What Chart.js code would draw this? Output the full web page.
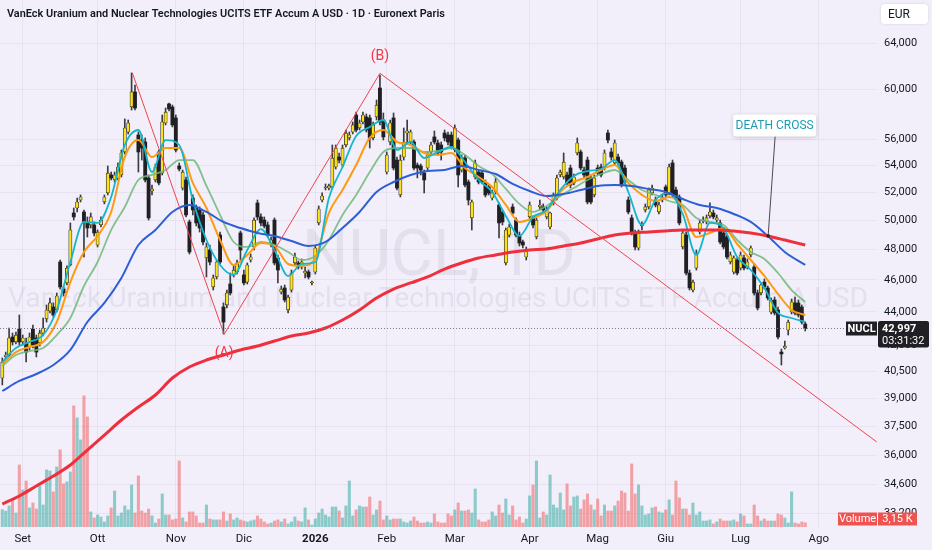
<!DOCTYPE html>
<html>
<head>
<meta charset="utf-8">
<script src="https://cdn.jsdelivr.net/npm/chart.js@4.4.1/dist/chart.umd.min.js"></script>
<style>
  html, body { margin: 0; padding: 0; background: #f2effa; }
  #wrap { width: 932px; height: 550px; }
</style>
</head>
<body>
<div id="wrap"><canvas id="chart" width="932" height="550"></canvas></div>
<script>
// daily bars, 22 Aug 2025 -> 28 Jul 2026 (index 0..236)
const opens = [40120,41315,41430,42485,42190,42960,42190,42130,41895,42960,
  42425,42130,42720,43565,44050,44300,44115,47170,45425,45810,
  46975,50510,50860,51430,50580,49880,49670,49670,48300,49670,
  51290,51940,53260,52890,53035,53260,54995,56550,58560,59800,
  56315,55920,55770,53035,52080,52890,54995,53405,57265,58805,
  58560,57670,53930,52300,52890,49880,51575,50860,50720,50370,
  47435,47965,45555,46195,48980,44300,44425,45745,46325,46515,
  49120,46325,45870,47300,48170,51220,50230,50015,49670,48300,
  50015,47435,45235,45490,44115,45360,47105,47105,46840,46450,
  46515,45810,46515,49810,51430,52300,52300,52375,53855,54610,
  54005,55535,56080,56550,57910,56870,57345,57750,57670,56080,
  57750,60130,57505,53480,55770,57670,54380,51795,54610,56470,
  55770,55770,54005,53930,53405,53780,54995,56160,55690,55535,
  56470,56315,56315,55150,55920,53630,54535,52740,50160,53110,
  53480,53405,52670,52375,51575,52010,51075,50580,47105,48980,
  50935,50015,48980,48505,47500,50230,50160,48845,50935,50935,
  50230,49530,51220,51575,53260,53110,53260,53780,52670,54920,
  54995,53630,54380,53035,51795,53780,53855,53780,56470,54995,
  54160,54610,54230,53780,51430,50160,49120,48100,49600,50720,
  50935,51940,51430,50580,51430,52375,51940,54160,52155,51650,
  48170,48980,46450,45360,46775,49185,49945,49880,50300,50510,
  50015,49810,49120,48845,47170,46515,47300,46775,47435,46840,
  47635,46840,45175,45175,45870,45490,43990,44735,44115,41600,
  41835,42900,43990,44550,44550,44300,43260];
const highs = [41260,41600,43020,42720,42780,43810,42600,42425,42720,43200,
  42600,42900,43625,44425,44860,44550,45175,47300,45555,46910,
  49810,50860,51575,51795,50720,50230,50510,49880,49325,50230,
  51795,53930,53480,53480,54160,55150,57590,57505,61405,60385,
  56550,56315,56080,53260,52520,54080,55150,57910,58475,58885,
  58720,57910,54160,53630,53110,50015,51795,51075,50935,50580,
  48435,48300,46325,47300,49185,44550,45360,46450,46910,47300,
  49255,46645,47105,47700,50160,51430,50440,50230,49880,48845,
  50160,47635,45615,45680,45045,46645,47765,47235,47370,46840,
  46645,45935,48235,51005,51940,52595,52595,55535,55535,54920,
  55535,56710,56550,57345,58150,57505,58150,57990,57910,57345,
  59130,61235,58070,54995,57505,58070,54610,54765,56870,57505,
  56710,55920,54160,54080,53630,54995,55770,56630,55920,55770,
  56710,56550,56550,57110,56080,54765,54765,52890,51430,54380,
  53630,53630,52890,52520,52155,53035,51220,50720,49460,49740,
  51150,50160,49185,48640,48170,51290,50300,50160,51430,51150,
  50935,50580,51940,53260,53630,54920,53480,54005,53330,56080,
  55150,53855,54610,53260,53260,54005,54080,55150,56710,55300,
  55920,54840,54380,54005,51650,50370,49325,49325,49880,51150,
  52300,52520,51650,51290,51865,52520,54080,54380,52375,51795,
  49325,49185,46645,46000,47965,50015,50230,50370,51220,50720,
  50370,50015,49325,48980,47835,47570,47435,47835,47635,47370,
  48235,47040,45360,45810,46065,45615,44860,44920,44300,41775,
  42245,43500,44795,44920,44735,44425,43380];
const lows = [39735,41200,41315,42010,42070,42010,42010,41025,41720,41835,
  41315,41950,42540,43380,43930,43685,43990,45425,44985,45680,
  46910,50015,50580,51290,47500,48845,49460,48915,48170,49530,
  51150,51795,52890,52740,52890,53110,54840,56395,58310,58310,
  53480,54380,52740,50015,51795,52740,52520,53260,57110,58230,
  56950,54995,53555,52155,50230,47700,50370,49600,49185,48300,
  46195,46975,45360,46065,47040,42660,44240,45045,46195,46390,
  47300,45680,45745,47170,47965,50015,49600,49460,48845,48170,
  46975,45810,45110,44610,43930,45235,46975,46710,46710,46130,
  46065,45680,46390,49670,51290,52155,52155,52230,53705,54160,
  53855,55380,55920,56395,56550,56710,57185,56550,55300,55920,
  57505,57110,55920,53330,55535,53630,52155,51650,54380,55690,
  55610,53630,53035,53260,51940,53630,54840,55610,54765,54380,
  55845,55535,55225,54995,52375,53480,52375,51075,49325,52960,
  52595,52595,51650,51795,51430,51865,48775,49670,46975,48845,
  50370,48845,48235,48100,47300,50090,49460,48710,50720,50580,
  50090,49390,51075,51430,53110,52960,52520,52300,52520,54765,
  53630,53035,51150,51150,51650,53260,53110,53630,55690,54380,
  54005,54005,52375,52595,50440,48980,47965,47965,49325,50580,
  50790,51795,50935,50440,51290,51650,51795,51650,51430,49670,
  48035,46325,45360,45235,46645,49050,49810,49740,50160,50090,
  49880,48370,48035,47370,47040,46390,46325,46645,46645,46710,
  47500,45045,44115,45045,45425,44735,43870,43810,42365,40855,
  41775,42600,43870,43810,43685,43260,42840];
const closes = [41025,41430,42425,42190,42600,42190,42425,41600,42485,42010,
  41600,42720,43020,44115,44550,43810,44985,45555,45175,46775,
  49325,50230,51290,51650,49880,49460,50230,49120,49185,50015,
  51650,53405,53035,53260,53855,54920,56870,57265,59800,58475,
  54995,55300,52890,50160,52230,53855,52670,57345,58150,58395,
  57110,55150,53705,53480,50370,47835,50720,49810,49460,48505,
  48170,47170,46130,47170,47170,43380,45175,45175,46645,47105,
  47965,45810,46975,47500,50015,50230,49810,49600,48980,48640,
  47105,46645,45425,44735,44920,46450,47500,46840,47170,46580,
  46195,45870,48100,50790,51720,52375,52450,54535,55300,54380,
  55300,56470,56315,57110,56710,57265,57910,56710,56080,57110,
  58720,57345,56160,54765,57265,53780,52300,54380,55770,56630,
  56550,53780,53780,53630,52890,54765,55535,55770,54920,54995,
  56080,55770,55380,56870,53260,54610,52520,51430,51290,54160,
  52740,52740,51795,51940,51940,52740,49810,49880,49325,49530,
  50510,48980,48435,48300,47965,51075,49670,50015,51075,50720,
  50720,50510,51795,53035,53480,54230,52670,52520,53110,55690,
  53780,53260,51290,51290,53035,53405,53260,54920,55920,54610,
  55690,54160,52520,52740,50580,49185,48170,49120,49670,50935,
  52155,52300,51075,51075,51650,51795,53855,51795,51575,49810,
  49120,46450,45490,45870,47765,49810,50015,50160,50580,50230,
  50160,48505,48170,47500,47635,47435,46450,47635,46775,47170,
  48100,45175,44240,45680,45555,44860,44735,43930,42485,41490,
  41950,43380,44610,43930,43810,43380,42997];
// volume in thousands
const volumes = [13.0,12.0,15.8,21.0,10.5,46.5,27.8,34.5,14.3,18.0,
  13.5,30.8,16.5,42.8,42.0,26.3,45.0,57.8,32.3,33.8,
  41.3,90.8,81.8,65.3,98.3,82.5,11.3,6.8,9.0,7.5,
  3.8,8.3,14.3,27.0,8.3,10.5,15.8,12.8,31.5,10.5,
  38.3,12.0,10.5,13.5,8.3,3.0,6.0,24.8,9.0,9.0,
  5.3,6.0,49.5,6.8,3.8,11.3,11.3,8.3,3.0,3.0,
  16.5,6.0,5.3,5.3,5.3,11.3,4.5,9.8,5.3,6.8,
  5.3,4.5,3.8,4.5,5.3,8.3,6.0,3.8,2.3,3.0,
  4.5,5.3,3.8,6.0,2.3,3.8,7.5,4.5,3.8,14.3,
  5.3,1.5,6.0,10.5,13.5,9.0,7.5,15.0,15.0,12.0,
  6.8,15.8,34.5,8.3,12.8,15.8,15.0,15.0,22.5,9.0,
  12.8,19.5,5.3,8.3,5.3,6.0,6.0,6.0,3.8,3.0,
  4.5,7.5,4.5,3.0,3.0,3.8,3.0,9.8,3.8,3.0,
  3.0,9.8,8.3,12.8,18.0,12.0,12.0,12.8,10.5,28.5,
  5.3,3.8,3.8,5.3,11.3,8.3,16.5,10.5,21.0,9.0,
  15.8,5.3,7.5,3.0,6.0,23.3,31.5,49.5,6.8,11.3,
  9.0,39.0,16.5,14.3,25.5,12.8,32.3,15.8,22.5,23.3,
  13.5,20.3,24.8,16.5,12.8,21.0,8.3,16.5,12.0,12.0,
  15.8,19.5,27.0,25.5,12.0,47.3,24.8,31.5,15.8,9.0,
  9.8,14.3,15.0,11.3,10.5,12.8,20.3,9.0,34.5,21.8,
  13.5,13.5,9.0,18.0,9.0,11.3,4.5,4.5,5.3,2.3,
  3.8,6.0,4.5,4.5,4.5,5.3,3.8,9.8,8.3,2.3,
  2.3,16.5,8.3,4.5,6.0,4.5,4.5,4.5,9.8,9.0,
  6.8,3.0,26.3,3.0,2.3,3.8,3.15];

const fastIdx = [0,4,8,12,16,20,24,28,32,36,40,44,48,52,56,60,64,68,72,76,
  80,84,88,92,96,100,104,108,112,116,120,124,128,132,136,140,144,148,152,156,
  160,164,168,172,176,180,184,188,192,196,200,204,208,212,216,220,224,228,232,236];
const maTeal = [41025,41835,42190,42600,44115,47170,49880,49810,51650,55535,
  56710,53480,55920,55535,51430,48640,46975,46325,47965,49390,
  47965,46260,47040,47170,51575,53855,56235,56950,57505,55150,
  55770,54535,54995,55380,54230,52890,52010,50300,48915,50230,
  50720,52155,53185,53555,53705,54380,52010,49670,51430,51940,
  50440,47635,49810,49460,47500,46645,45490,43930,43625,43380];
const maOrange = [40915,41600,41895,42190,43380,45870,47835,48915,50580,54610,
  55920,54610,55300,55300,52670,50860,48640,46975,47635,48435,
  48235,47040,46910,47435,50510,52155,54005,56080,56710,55770,
  55535,54920,54765,54920,53780,53110,52375,51075,49880,50160,
  50650,52010,52740,53110,53630,54005,52670,51795,51360,51650,
  50935,48845,49120,49460,48370,47300,46260,45110,44115,43810];
const maGreen = [40800,41430,41660,41835,42600,43625,45615,47170,49325,50935,
  52890,53260,53630,54380,54380,52450,50370,48505,48170,48505,
  48300,47835,47300,47570,48640,50370,51795,53480,54995,55300,
  55300,54995,55070,55300,54765,53930,53330,52230,51150,50580,
  51005,51720,52300,52890,53330,53630,52890,52155,51795,51360,
  51075,50160,49880,49670,48640,47835,47370,46450,45360,44610];
const slowIdx = [0,5,10,15,20,25,30,35,40,45,50,55,60,65,70,75,80,85,90,95,
  100,105,110,115,120,125,130,135,140,145,150,155,160,165,170,175,180,185,190,195,
  200,205,210,215,220,225,230,236];
const ma50 = [39400,39955,40345,40855,41720,43380,44550,46130,48300,49325,
  50580,51075,50580,49880,49460,49120,48915,48570,48235,48505,
  49460,50580,52010,52740,53260,53555,53630,53930,53630,53330,
  52595,52080,51720,51865,52155,52450,52520,52450,52230,52010,
  51505,51075,50860,50440,49880,48915,47835,46975];
const ma200 = [33650,34030,34510,34990,35535,36285,37050,37836,38530,39180,
  40120,40740,41140,41430,41720,41950,42245,42540,42720,43020,
  43500,44115,44860,45425,45810,46195,46710,47105,47435,47635,
  47835,47965,48035,48235,48435,48710,48980,49120,49185,49255,
  49325,49325,49325,49255,49120,48915,48640,48300];

// hand-drawn wave lines
const waveIdx = [38.2, 65.2, 111.0, 257.0];
const wavePrice = [61430, 42640, 61380, 36700];
const waveLabels = ['', '(A)', '(B)', ''];
const crossIdx = 225.1, crossPrice = 48915;

const monthIdx = [6,28,51,71,92,113,133,155,175,195,217,240];
const monthLabels = ['Set','Ott','Nov','Dic','2026','Feb','Mar','Apr','Mag','Giu','Lug','Ago'];
const priceTicks = [33200,34600,36000,37500,39000,40500,42000,44000,46000,48000,50000,52000,54000,56000,60000,64000];

const titleText = 'VanEck Uranium and Nuclear Technologies UCITS ETF Accum A USD · 1D · Euronext Paris';
const markBig = 'NUCL, 1D';
const markSmall = 'VanEck Uranium and Nuclear Technologies UCITS ETF Accum A USD';
const countdown = '03:31:32';

const FONT = 'Roboto, "Noto Sans", sans-serif';
const BG = '#f2effa';
const GRID = '#e6e2f1';
const TXT = '#131722';

const isUp = closes.map((c, i) => c >= opens[i]);
const idx = closes.map((c, i) => i);

function fitFont(c, text, width, weight) {
  c.font = weight + ' 100px ' + FONT;
  const size = 100 * width / c.measureText(text).width;
  c.font = weight + ' ' + size.toFixed(2) + 'px ' + FONT;
}
function rrect(c, x, y, w, h, r) {
  c.beginPath();
  c.moveTo(x + r, y);
  c.arcTo(x + w, y, x + w, y + h, r);
  c.arcTo(x + w, y + h, x, y + h, r);
  c.arcTo(x, y + h, x, y, r);
  c.arcTo(x, y, x + w, y, r);
  c.closePath();
}

const decor = {
  id: 'decor',
  beforeDraw(chart) {
    const c = chart.ctx;
    c.save();
    c.fillStyle = BG;
    c.fillRect(0, 0, chart.width, chart.height);
    c.restore();
  },
  beforeDatasetsDraw(chart) {
    const c = chart.ctx;
    c.save();
    c.fillStyle = 'rgba(70,60,110,0.085)';
    c.textAlign = 'center';
    c.textBaseline = 'alphabetic';
    fitFont(c, markBig, 274, 'normal');
    c.fillText(markBig, 439, 275);
    fitFont(c, markSmall, 860, 'normal');
    c.fillText(markSmall, 438, 307);
    c.restore();
  },
  afterDatasetsDraw(chart) {
    const c = chart.ctx, a = chart.chartArea, x = chart.scales.x, y = chart.scales.y;
    const last = closes[closes.length - 1];
    const py = Math.round(y.getPixelForValue(last)) + 0.5;

    c.save();
    // price scale labels (drawn here so the axis adds no padding to the plot)
    c.fillStyle = TXT;
    c.font = '11px ' + FONT;
    c.textAlign = 'left';
    c.textBaseline = 'middle';
    priceTicks.forEach(v => c.fillText(v.toLocaleString('en-US'), a.right + 7, y.getPixelForValue(v)));

    // last price dotted line
    c.strokeStyle = '#7e7b8c';
    c.lineWidth = 1;
    c.setLineDash([1, 2]);
    c.beginPath(); c.moveTo(a.left, py); c.lineTo(a.right, py); c.stroke();
    c.setLineDash([]);

    // wave labels
    c.fillStyle = '#f23645';
    c.font = '14px ' + FONT;
    c.textAlign = 'center';
    c.fillText(waveLabels[1], x.getPixelForValue(waveIdx[1]), y.getPixelForValue(wavePrice[1]) + 19);
    c.fillText(waveLabels[2], x.getPixelForValue(waveIdx[2]), y.getPixelForValue(wavePrice[2]) - 17);

    // death cross callout
    const ax = x.getPixelForValue(crossIdx), ay = y.getPixelForValue(crossPrice);
    const bw = 83, bh = 22, bx = ax + 6.5 - bw / 2, by = ay - 110.5 - bh / 2;
    c.strokeStyle = '#4a4a55';
    c.lineWidth = 1;
    c.beginPath(); c.moveTo(ax + 7, by + bh); c.lineTo(ax, ay); c.stroke();
    c.fillStyle = '#222';
    c.fillRect(ax - 1.5, ay - 1.5, 3, 3);
    c.shadowColor = 'rgba(0,0,0,0.18)'; c.shadowBlur = 4; c.shadowOffsetY = 1;
    c.fillStyle = '#ffffff';
    rrect(c, bx, by, bw, bh, 3); c.fill();
    c.shadowColor = 'transparent'; c.shadowBlur = 0; c.shadowOffsetY = 0;
    c.fillStyle = '#1e9bb3';
    c.font = '12px ' + FONT;
    c.fillText('DEATH CROSS', bx + bw / 2, by + bh / 2 + 0.5);

    // symbol + last price boxes
    c.fillStyle = '#1f1f24';
    c.fillRect(a.right - 31, py - 7, 31, 14);
    rrect(c, a.right + 1, py - 7.5, 51, 26.5, 2); c.fill();
    c.fillStyle = '#ffffff';
    c.font = 'bold 11px ' + FONT;
    c.fillText('NUCL', a.right - 15.5, py + 0.5);
    c.textAlign = 'left';
    c.fillText(last.toLocaleString('en-US'), a.right + 5, py + 0.5);
    c.font = '11px ' + FONT;
    c.fillText(countdown, a.right + 5, py + 12.5);

    // volume boxes
    const vy = 519;
    c.fillStyle = '#ef5350';
    c.fillRect(a.right - 39, vy - 6.5, 39, 13);
    c.fillRect(a.right + 1, vy - 6.5, 39, 13);
    c.fillStyle = '#ffffff';
    c.textAlign = 'center';
    c.fillText('Volume', a.right - 19.5, vy + 0.5);
    const lv = volumes[volumes.length - 1].toFixed(2).replace('.', ',') + ' K';
    c.fillText(lv, a.right + 20.5, vy + 0.5);

    // currency box
    c.shadowColor = 'rgba(0,0,0,0.12)'; c.shadowBlur = 3;
    c.fillStyle = '#ffffff';
    rrect(c, 881, 4, 47, 20, 4); c.fill();
    c.shadowColor = 'transparent'; c.shadowBlur = 0;
    c.fillStyle = TXT;
    c.textAlign = 'left';
    c.font = '12px ' + FONT;
    c.fillText('EUR', 888, 14.5);

    // title
    c.fillStyle = TXT;
    fitFont(c, titleText, 438, '600');
    c.textBaseline = 'middle';
    c.fillText(titleText, 7, 14.5);
    c.restore();
  }
};

const lineDs = (label, xs, vals, color, width, order) => ({
  type: 'line', label, yAxisID: 'y',
  data: xs.map((v, k) => ({ x: v, y: vals[k] })),
  borderColor: color, borderWidth: width, pointRadius: 0,
  tension: 0.4, cubicInterpolationMode: 'monotone', order
});

new Chart(document.getElementById('chart'), {
  type: 'bar',
  data: {
    datasets: [
      {
        label: 'Volume', yAxisID: 'yv', grouped: false, order: 9,
        data: idx.map(i => ({ x: i, y: volumes[i] })),
        backgroundColor: idx.map(i => isUp[i] ? 'rgba(38,166,154,0.5)' : 'rgba(239,83,80,0.5)'),
        barThickness: 2.4
      },
      {
        label: 'wick', yAxisID: 'y', grouped: false, order: 7,
        data: idx.map(i => ({ x: i, y: [lows[i], highs[i]] })),
        backgroundColor: '#3b3b40', barThickness: 1
      },
      {
        label: 'body', yAxisID: 'y', grouped: false, order: 6,
        data: idx.map(i => ({ x: i, y: [opens[i], closes[i]] })),
        backgroundColor: idx.map(i => isUp[i] ? '#fbe21d' : '#1f1f24'),
        borderColor: '#1f1f24', borderWidth: idx.map(i => isUp[i] ? 0.7 : 0),
        borderSkipped: false, barThickness: 3.2, minBarLength: 1
      },
      lineDs('MA20', fastIdx, maGreen, 'rgba(110,185,120,0.85)', 1.8, 5),
      lineDs('MA10', fastIdx, maOrange, '#ff9a10', 2, 4),
      lineDs('MA5', fastIdx, maTeal, '#14b6cc', 1.8, 3),
      lineDs('MA50', slowIdx, ma50, '#2c5fd6', 2, 2),
      lineDs('MA200', slowIdx, ma200, '#ef2f3c', 3, 1),
      {
        type: 'line', label: 'wave', yAxisID: 'y', order: 0,
        data: waveIdx.map((v, k) => ({ x: v, y: wavePrice[k] })),
        borderColor: '#f0444f', borderWidth: 1, pointRadius: 0, tension: 0
      }
    ]
  },
  options: {
    responsive: false,
    animation: false,
    events: [],
    layout: { padding: 0 },
    plugins: { legend: { display: false }, tooltip: { enabled: false }, title: { display: false } },
    scales: {
      x: {
        type: 'linear', min: -0.68, max: 257.1, offset: false,
        grid: { color: GRID, drawTicks: false, offset: false },
        border: { display: false },
        afterBuildTicks: s => { s.ticks = monthIdx.map(v => ({ value: v })); },
        afterFit: s => { s.height = 23; },
        ticks: {
          autoSkip: false, maxRotation: 0, padding: 5, color: TXT,
          font: ctx => ({ family: FONT, size: 11.5, weight: (ctx.tick && ctx.tick.value === monthIdx[4]) ? 'bold' : 'normal' }),
          callback: v => monthLabels[monthIdx.indexOf(v)]
        }
      },
      y: {
        type: 'logarithmic', position: 'right', min: 32590, max: 67986,
        grid: { color: GRID, drawTicks: false },
        border: { display: false },
        afterBuildTicks: s => { s.ticks = priceTicks.map(v => ({ value: v })); },
        afterFit: s => { s.width = 55; },
        ticks: { display: false }
      },
      yv: { type: 'linear', display: false, min: 0, max: 395 }
    }
  },
  plugins: [decor]
});
</script>
</body>
</html>
